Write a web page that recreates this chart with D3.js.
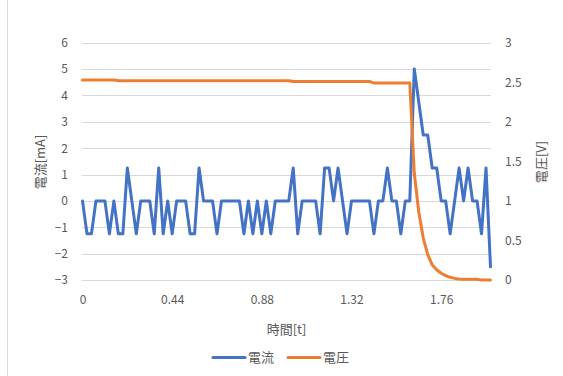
<!DOCTYPE html>
<html><head><meta charset="utf-8">
<script src="https://cdn.jsdelivr.net/npm/d3@7"></script>
<style>
html,body{margin:0;padding:0;background:#fff;}
text{font-family:"Noto Sans CJK JP","Noto Sans",sans-serif;fill:#595959;}
</style></head>
<body>
<svg id="chart" width="563" height="376"></svg>
<script>
// time categories [t]
const times = [
0,0.022,0.044,0.066,0.088,0.11,0.132,0.154,0.176,0.198,
0.22,0.242,0.264,0.286,0.308,0.33,0.352,0.374,0.396,0.418,
0.44,0.462,0.484,0.506,0.528,0.55,0.572,0.594,0.616,0.638,
0.66,0.682,0.704,0.726,0.748,0.77,0.792,0.814,0.836,0.858,
0.88,0.902,0.924,0.946,0.968,0.99,1.012,1.034,1.056,1.078,
1.1,1.122,1.144,1.166,1.188,1.21,1.232,1.254,1.276,1.298,
1.32,1.342,1.364,1.386,1.408,1.43,1.452,1.474,1.496,1.518,
1.54,1.562,1.584,1.606,1.628,1.65,1.672,1.694,1.716,1.738,
1.76,1.782,1.804,1.826,1.848,1.87,1.892,1.914,1.936,1.958,
1.98,2.002];
// 電流 [mA]
const current = [
0,-1.25,-1.25,0,0,0,-1.25,0,-1.25,-1.25,
1.25,0,-1.25,0,0,0,-1.25,1.25,-1.25,0,
-1.25,0,0,0,-1.25,-1.25,1.25,0,0,0,
-1.25,0,0,0,0,0,-1.25,0,-1.25,0,
-1.25,0,-1.25,0,0,0,0,1.25,-1.25,0,
0,0,0,-1.25,1.25,1.25,0,1.25,0,-1.25,
0,0,0,0,0,-1.25,0,0,1.25,0,
0,-1.25,0,0,5,3.75,2.5,2.5,1.25,1.25,
0,0,-1.25,0,1.25,0,1.25,0,0,-1.25,
1.25,-2.5];
// 電圧 [V]
const voltage = [
2.53,2.53,2.53,2.53,2.53,2.53,2.53,2.53,2.52,2.52,
2.52,2.52,2.52,2.52,2.52,2.52,2.52,2.52,2.52,2.52,
2.52,2.52,2.52,2.52,2.52,2.52,2.52,2.52,2.52,2.52,
2.52,2.52,2.52,2.52,2.52,2.52,2.52,2.52,2.52,2.52,
2.52,2.52,2.52,2.52,2.52,2.52,2.52,2.51,2.51,2.51,
2.51,2.51,2.51,2.51,2.51,2.51,2.51,2.51,2.51,2.51,
2.51,2.51,2.51,2.51,2.51,2.49,2.49,2.49,2.49,2.49,
2.49,2.49,2.49,2.49,1.35,0.86,0.53,0.32,0.19,0.13,
0.085,0.055,0.034,0.02,0.012,0.01,0.01,0.01,0.008,0,
0,0];
const leftTicks = [-3,-2,-1,0,1,2,3,4,5,6];
const rightTicks = [0,0.5,1,1.5,2,2.5,3];
const xTickLabels = ["0","0.44","0.88","1.32","1.76"];
const seriesNames = ["電流","電圧"];
const colors = ["#4472C4","#ED7D31"];

const svg = d3.select("#chart");
const x = d3.scalePoint().domain(times.map((t,i)=>i)).range([82.5,490.5]);
const yL = d3.scaleLinear().domain([-3,6]).range([280,42.7]);
const yR = d3.scaleLinear().domain([0,3]).range([280,42.7]);

// chart border
svg.append("line").attr("x1",7.5).attr("x2",7.5).attr("y1",0).attr("y2",376)
  .attr("stroke","#d9d9d9").attr("stroke-width",1);

// gridlines
svg.append("g").selectAll("line").data(leftTicks).join("line")
  .attr("x1",82).attr("x2",491)
  .attr("y1",d=>Math.round(yL(d))+0.5).attr("y2",d=>Math.round(yL(d))+0.5)
  .attr("stroke","#d9d9d9").attr("stroke-width",1);

// left axis
const gL = svg.append("g").attr("transform","translate(74,0)")
  .call(d3.axisLeft(yL).tickValues(leftTicks).tickSize(0).tickPadding(0).tickFormat(d3.format("d")));
gL.select(".domain").remove();
gL.selectAll("text").attr("font-size",12).attr("fill","#595959")
  .attr("font-family",'"Noto Sans CJK JP","Noto Sans",sans-serif').attr("dx",-6);

// right axis
const gR = svg.append("g").attr("transform","translate(505,0)")
  .call(d3.axisRight(yR).tickValues(rightTicks).tickSize(0).tickPadding(0).tickFormat(d=>String(d)));
gR.select(".domain").remove();
gR.selectAll("text").attr("font-size",12).attr("fill","#595959")
  .attr("font-family",'"Noto Sans CJK JP","Noto Sans",sans-serif');

// bottom axis
const labelIdx = times.map((t,i)=>i).filter(i=>xTickLabels.includes(String(times[i])));
const gB = svg.append("g").attr("transform","translate(0,295)")
  .call(d3.axisBottom(x).tickValues(labelIdx).tickSize(0).tickPadding(0).tickFormat(i=>String(times[i])));
gB.select(".domain").remove();
gB.selectAll("text").attr("font-size",12).attr("fill","#595959")
  .attr("font-family",'"Noto Sans CJK JP","Noto Sans",sans-serif');

// axis titles
svg.append("text").attr("transform","translate(45,162) rotate(-90)")
  .attr("text-anchor","middle").attr("font-size",13).text("電流[mA]");
svg.append("text").attr("transform","translate(546,162) rotate(-90)")
  .attr("text-anchor","middle").attr("font-size",13).text("電圧[V]");
svg.append("text").attr("x",286.5).attr("y",334)
  .attr("text-anchor","middle").attr("font-size",13).text("時間[t]");

// lines
const lineL = d3.line().x((d,i)=>x(i)).y(d=>yL(d));
const lineR = d3.line().x((d,i)=>x(i)).y(d=>yR(d));
svg.append("path").datum(current).attr("d",lineL).attr("fill","none")
  .attr("stroke",colors[0]).attr("stroke-width",3).attr("stroke-linejoin","round").attr("stroke-linecap","round");
svg.append("path").datum(voltage).attr("d",lineR).attr("fill","none")
  .attr("stroke",colors[1]).attr("stroke-width",3).attr("stroke-linejoin","round").attr("stroke-linecap","round");

// legend
const legX = [213,288];
seriesNames.forEach((n,k)=>{
  svg.append("line").attr("x1",legX[k]).attr("x2",legX[k]+32).attr("y1",357.5).attr("y2",357.5)
    .attr("stroke",colors[k]).attr("stroke-width",3).attr("stroke-linecap","round");
  svg.append("text").attr("x",legX[k]+35).attr("y",362).attr("font-size",13).text(n);
});
</script>
</body></html>
